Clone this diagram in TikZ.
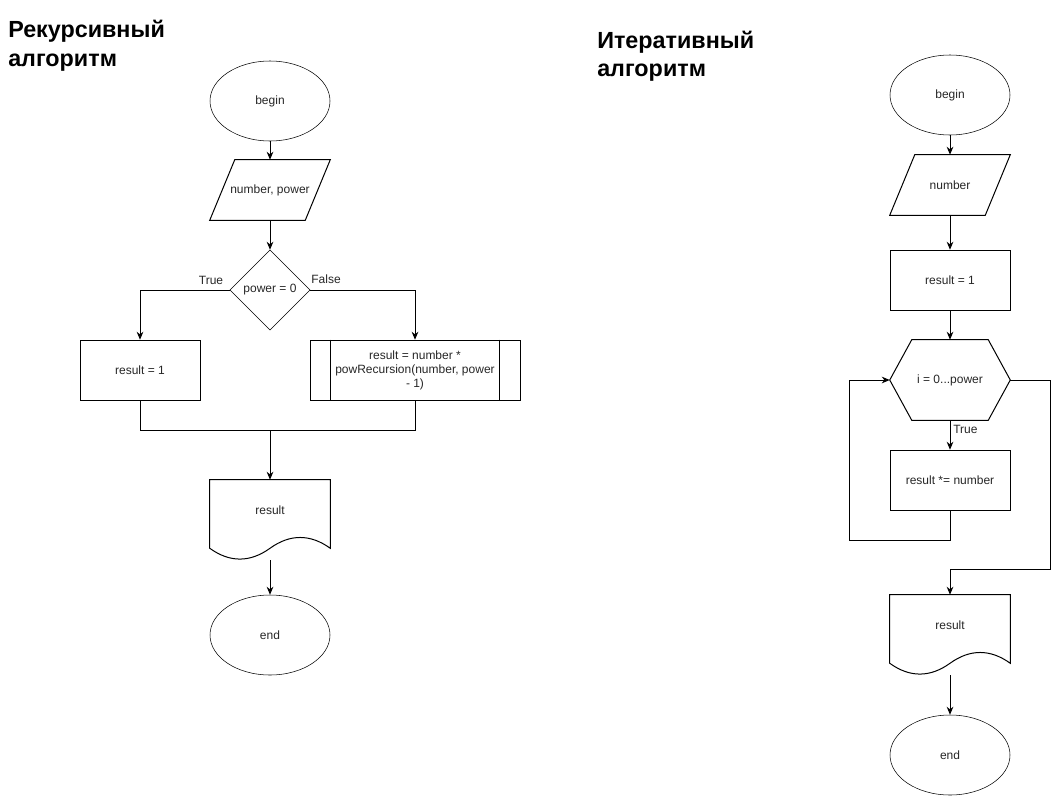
\documentclass[tikz,border=0pt]{standalone}
\usepackage{fontspec}
\setmainfont{Liberation Sans}
\usetikzlibrary{shapes.geometric,arrows.meta,calc}
\begin{document}
\begin{tikzpicture}[x=0.75pt,y=-0.75pt,
  every node/.style={font=\fontsize{9}{10.5}\selectfont, inner sep=0pt, align=center, text=black!85},
  title/.style={font=\bfseries\fontsize{17.5}{21.3}\selectfont, align=left, anchor=base west, text=black},
  term/.style={ellipse, draw, minimum width=90pt, minimum height=60pt},
  box/.style={rectangle, draw, minimum width=90pt, minimum height=45pt},
  frame/.style={rectangle, minimum width=90pt, minimum height=45pt},
  cond/.style={diamond, draw, minimum width=60pt, minimum height=60pt},
  ln/.style={line width=0.75pt},
  arr/.style={line width=0.75pt, -{Stealth[length=6pt,width=5pt]}},
  lbl/.style={font=\fontsize{9}{10.5}\selectfont}
]
\useasboundingbox (0,0) rectangle (1059,796);

% ---------- titles ----------
\node[title] (tl) at (8,66) {Рекурсивный\\алгоритм};
\node[title] (tr) at (597,76.5) {Итеративный\\алгоритм};

% ---------- recursive ----------
\node[term] (b1) at (270,101) {begin};
\node[frame] (in1) at (270,190) {number, power};
\draw[ln] ($(in1.north west)+(25,0)$) -- (in1.north east) -- ($(in1.south east)+(-25,0)$) -- (in1.south west) -- cycle;
\node[cond] (d1) at (270,290) {power = 0};
\node[lbl] (tt1) at (211,280) {True};
\node[lbl] (ff1) at (326,279) {False};
\node[box] (r1) at (140,370) {result = 1};
\node[rectangle, draw, minimum width=157.5pt, minimum height=45pt] (s1) at (415,370) {result = number *\\powRecursion(number, power\\- 1)};
\draw[ln] ($(s1.north west)+(21,0)$) -- ($(s1.south west)+(21,0)$);
\draw[ln] ($(s1.north east)+(-21,0)$) -- ($(s1.south east)+(-21,0)$);
\coordinate (m1) at (270,430);
\node[frame] (doc1) at (270,510) {result};
\draw[ln] (doc1.north west) -- (doc1.north east) -- ($(doc1.south east)+(0,8)$)
  .. controls ($(doc1.south east)+(-20,-6.4)$) and ($(doc1.south)+(20,-6.4)$) .. ($(doc1.south)+(0,8)$)
  .. controls ($(doc1.south)+(-20,22.4)$) and ($(doc1.south west)+(20,22.4)$) .. ($(doc1.south west)+(0,8)$) -- cycle;
\coordinate (doc1b) at ($(doc1.south)+(0,20)$);
\node[term] (e1) at (270,635) {end};

\draw[arr] (b1.south) -- (in1.north);
\draw[arr] (in1.south) -- (d1.north);
\draw[arr] (d1.west) -| (r1.north);
\draw[arr] (d1.east) -| (s1.north);
\draw[ln] (r1.south) |- (m1);
\draw[ln] (s1.south) |- (m1);
\draw[arr] (m1) -- (doc1.north);
\draw[arr] (doc1b) -- (e1.north);

% ---------- iterative ----------
\node[term] (b2) at (950,95) {begin};
\node[frame] (in2) at (950,185) {number};
\draw[ln] ($(in2.north west)+(25,0)$) -- (in2.north east) -- ($(in2.south east)+(-25,0)$) -- (in2.south west) -- cycle;
\node[box] (r2) at (950,280) {result = 1};
\node[frame, minimum height=60pt] (h2) at (950,380) {i = 0...power};
\draw[ln] ($(h2.north west)+(22,0)$) -- ($(h2.north east)+(-22,0)$) -- (h2.east)
  -- ($(h2.south east)+(-22,0)$) -- ($(h2.south west)+(22,0)$) -- (h2.west) -- cycle;
\node[lbl, anchor=west] (tt2) at (953,429) {True};
\node[box] (r3) at (950,480) {result *= number};
\node[frame] (doc2) at (950,625) {result};
\draw[ln] (doc2.north west) -- (doc2.north east) -- ($(doc2.south east)+(0,8)$)
  .. controls ($(doc2.south east)+(-20,-6.4)$) and ($(doc2.south)+(20,-6.4)$) .. ($(doc2.south)+(0,8)$)
  .. controls ($(doc2.south)+(-20,22.4)$) and ($(doc2.south west)+(20,22.4)$) .. ($(doc2.south west)+(0,8)$) -- cycle;
\coordinate (doc2b) at ($(doc2.south)+(0,20)$);
\node[term] (e2) at (950,755) {end};

\draw[arr] (b2.south) -- (in2.north);
\draw[arr] (in2.south) -- (r2.north);
\draw[arr] (r2.south) -- (h2.north);
\draw[arr] (h2.south) -- (r3.north);
\draw[arr] (r3.south) -- ++(0,30) -| ($(h2.west)+(-40,0)$) -- (h2.west);
\draw[arr] (h2.east) -- ++(40,0) |- ($(doc2.north)+(0,-25)$) -- (doc2.north);
\draw[arr] (doc2b) -- (e2.north);
\end{tikzpicture}
\end{document}
